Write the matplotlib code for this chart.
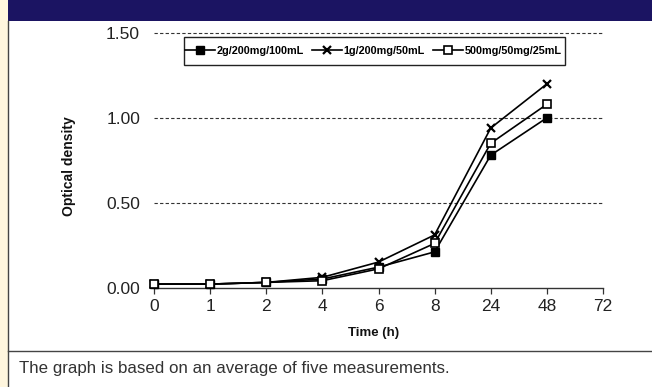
import matplotlib
matplotlib.use("Agg")
import matplotlib.pyplot as plt
from matplotlib.patches import Rectangle
from matplotlib.lines import Line2D

plt.rcParams['font.family'] = ['Liberation Sans', 'DejaVu Sans']

# ---- data ----
time_labels = ['0', '1', '2', '4', '6', '8', '24', '48', '72']
series_names = ['2g/200mg/100mL', '1g/200mg/50mL', '500mg/50mg/25mL']
od_2g = [0.02, 0.02, 0.03, 0.05, 0.12, 0.21, 0.78, 1.00]
od_1g = [0.02, 0.02, 0.03, 0.06, 0.15, 0.31, 0.94, 1.20]
od_500mg = [0.02, 0.02, 0.03, 0.04, 0.11, 0.26, 0.85, 1.08]
y_ticks = [0.0, 0.5, 1.0, 1.5]
x_title = 'Time (h)'
y_title = 'Optical density'
caption = 'The graph is based on an average of five measurements.'

W, H = 652, 387
fig = plt.figure(figsize=(W / 100, H / 100), dpi=100)
fig.patch.set_facecolor('white')

def fx(px):
    return px / W

def fy(py):
    return 1 - py / H

# decorations: cream strip, banner, frame lines
fig.add_artist(Rectangle((0, 0), fx(7.5), 1, transform=fig.transFigure,
                         facecolor='#FFF6DE', edgecolor='none', zorder=-2))
fig.add_artist(Rectangle((fx(7.5), fy(21)), 1 - fx(7.5), fy(0) - fy(21),
                         transform=fig.transFigure, facecolor='#1B1462',
                         edgecolor='none', zorder=1))
fig.add_artist(Line2D([fx(8), fx(8)], [0, fy(21)], transform=fig.transFigure,
                      color='#444444', lw=1.0, zorder=2))
fig.add_artist(Line2D([fx(8), 1], [fy(351), fy(351)], transform=fig.transFigure,
                      color='#444444', lw=1.0, zorder=2))

# axes
left_px, right_px, top_px, bot_px = 154, 603, 33, 287.5
ax = fig.add_axes([fx(left_px), fy(bot_px), fx(right_px - left_px),
                   (bot_px - top_px) / H])
ax.set_facecolor('none')

x_idx = list(range(len(time_labels)))
n = len(od_2g)
ax.plot(x_idx[:n], od_2g, color='black', lw=1.2, marker='s', ms=5.5,
        mfc='black', mec='black', clip_on=False, zorder=5, label=series_names[0])
ax.plot(x_idx[:n], od_1g, color='black', lw=1.2, marker='x', ms=6, mew=1.6,
        clip_on=False, zorder=5, label=series_names[1])
ax.plot(x_idx[:n], od_500mg, color='black', lw=1.2, marker='s', ms=5.5,
        mfc='white', mec='black', mew=1.2, clip_on=False, zorder=6,
        label=series_names[2])

ax.set_xlim(0, len(time_labels) - 1)
ax.set_ylim(0, 1.5)
ax.set_xticks(x_idx)
ax.set_xticklabels(time_labels)
ax.set_yticks(y_ticks)
ax.set_yticklabels([f'{v:.2f}' for v in y_ticks])

for v in y_ticks[1:]:
    ax.axhline(v, color='#333333', lw=0.8, ls=(0, (3, 2)), zorder=1, clip_on=False)

for s in ['left', 'right', 'top']:
    ax.spines[s].set_visible(False)
ax.spines['bottom'].set_color('#333333')
ax.spines['bottom'].set_linewidth(1.0)
ax.tick_params(axis='x', direction='out', length=4, width=0.9, color='#333333',
               labelsize=12.5, pad=4, labelcolor='#222222')
ax.tick_params(axis='y', length=0, labelsize=12.5, pad=10, labelcolor='#222222')

# legend: frame drawn separately (behind the axes), entries placed inside it
lx0, lx1, ly0, ly1 = 184, 564.5, 37, 65
fig.add_artist(Rectangle((fx(lx0), fy(ly1)), fx(lx1 - lx0), (ly1 - ly0) / H,
                         transform=fig.transFigure, facecolor='white',
                         edgecolor='#222222', lw=1.0, zorder=-1))
leg = ax.legend(loc='center left', ncol=3,
                bbox_to_anchor=(fx(185), fy((ly0 + ly1) / 2)),
                bbox_transform=fig.transFigure, frameon=False,
                prop={'weight': 'bold', 'size': 7.8}, handlelength=2.8,
                handletextpad=0.15, borderaxespad=0, borderpad=0,
                columnspacing=0.7)
leg.set_zorder(7)

# axis titles
fig.text(fx(373.5), fy(333), x_title, ha='center', va='center',
         fontsize=9.5, fontweight='bold', color='#111111')
fig.text(fx(69), fy(166), y_title, ha='center', va='center', rotation=90,
         fontsize=10, fontweight='bold', color='#111111')

# caption
fig.text(fx(19), fy(369), caption, ha='left', va='center', fontsize=12.2,
         color='#333333')

fig.savefig('out.png', dpi=100)
